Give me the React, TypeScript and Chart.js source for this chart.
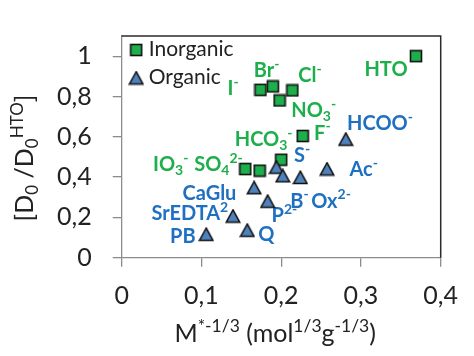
import React, { useEffect, useRef } from 'react';
import { Chart, registerables } from 'chart.js';
Chart.register(...registerables);

// ---- Data ----
const inorganicX = [0.369, 0.174, 0.1895, 0.214, 0.198, 0.227, 0.2, 0.155, 0.173];
const inorganicY = [1.0, 0.833, 0.85, 0.83, 0.78, 0.604, 0.486, 0.44, 0.432];
const organicX = [0.281, 0.194, 0.202, 0.224, 0.2575, 0.166, 0.183, 0.1395, 0.106, 0.1575];
const organicY = [0.588, 0.449, 0.406, 0.398, 0.44, 0.347, 0.28, 0.206, 0.116, 0.136];

const xTicks = [0, 0.1, 0.2, 0.3, 0.4];
const yTicks = [0, 0.2, 0.4, 0.6, 0.8, 1.0];

// annotation labels (markup: ^{sup}, _{sub}) and anchors in data units
const inorganicLabels = ['HTO', 'Br^{-}', 'Cl^{-}', 'I^{-}', 'NO_{3}^{-}', 'F^{-}', 'HCO_{3}^{-}', 'IO_{3}^{-}', 'SO_{4}^{2-}'];
const inorganicLabelX = [0.3314, 0.1816, 0.236, 0.1398, 0.2408, 0.2516, 0.178, 0.0614, 0.1214];
const inorganicLabelY = [0.937, 0.931, 0.907, 0.842, 0.732, 0.622, 0.59, 0.466, 0.466];
const organicLabels = ['HCOO^{-}', 'S^{-}', 'Ac^{-}', 'CaGlu', 'B^{-}', 'Ox^{2-}', 'P^{2-}', 'SrEDTA^{2}', 'PB', 'Q'];
const organicLabelX = [0.3239, 0.2262, 0.3035, 0.11, 0.2229, 0.2625, 0.2041, 0.0854, 0.0766, 0.1813];
const organicLabelY = [0.667, 0.509, 0.439, 0.321, 0.284, 0.284, 0.211, 0.221, 0.111, 0.117];

const seriesNames = ['Inorganic', 'Organic'];
const xTitle = 'M^{*-1/3} (mol^{1/3}g^{-1/3})';
const yTitle = '[D_{0} /D_{0}^{HTO}]';

// ---- Styles ----
const GREEN = '#1DAF4B';
const BLUE_TEXT = '#1F70C1';
const BLUE_FILL = '#4F81BD';
const FAMILY = 'Lato, "Open Sans", sans-serif';
const TEXT = '#222222';
const AXIS = '#8C8C8C';

type Seg = { t: string; k: 0 | 1 | -1 };
function parse(s: string): Seg[] {
  const out: Seg[] = [];
  const re = /([\^_])\{([^}]*)\}|([^\^_]+)/g;
  let m: RegExpExecArray | null;
  while ((m = re.exec(s))) {
    if (m[3]) out.push({ t: m[3], k: 0 });
    else out.push({ t: m[2], k: m[1] === '^' ? 1 : -1 });
  }
  return out;
}

function drawRich(
  ctx: CanvasRenderingContext2D,
  text: string,
  x: number,
  yMid: number,
  size: number,
  weight: string,
  color: string,
  supScale = 0.65,
  align: 'center' | 'left' = 'center'
) {
  const segs = parse(text);
  const font = (s: number) => `${weight} ${s}px ${FAMILY}`;
  let w = 0;
  const widths = segs.map((sg) => {
    ctx.font = font(sg.k ? size * supScale : size);
    const ww = ctx.measureText(sg.t).width;
    w += ww;
    return ww;
  });
  let cx = align === 'center' ? x - w / 2 : x;
  const base = yMid + size * 0.36;
  ctx.fillStyle = color;
  ctx.textAlign = 'left';
  ctx.textBaseline = 'alphabetic';
  segs.forEach((sg, i) => {
    ctx.font = font(sg.k ? size * supScale : size);
    const dy = sg.k === 1 ? -size * 0.42 : sg.k === -1 ? size * 0.2 : 0;
    ctx.fillText(sg.t, cx, base + dy);
    cx += widths[i];
  });
}

function makeSquare(): HTMLCanvasElement {
  const c = document.createElement('canvas');
  c.width = 14;
  c.height = 14;
  const g = c.getContext('2d')!;
  g.fillStyle = GREEN;
  g.strokeStyle = '#111';
  g.lineWidth = 1.6;
  g.fillRect(1.5, 1.5, 11, 11);
  g.strokeRect(1.5, 1.5, 11, 11);
  return c;
}

function makeTriangle(): HTMLCanvasElement {
  const c = document.createElement('canvas');
  c.width = 16;
  c.height = 15;
  const g = c.getContext('2d')!;
  g.fillStyle = BLUE_FILL;
  g.strokeStyle = '#111';
  g.lineWidth = 1.5;
  g.lineJoin = 'miter';
  g.beginPath();
  g.moveTo(8, 1.2);
  g.lineTo(14.8, 13.6);
  g.lineTo(1.2, 13.6);
  g.closePath();
  g.fill();
  g.stroke();
  return c;
}

const fmt = (v: number) => String(Math.round(v * 10) / 10).replace('.', ',');

export default function App() {
  const ref = useRef<HTMLCanvasElement>(null);

  useEffect(() => {
    const canvas = ref.current!;
    const sq = makeSquare();
    const tri = makeTriangle();

    const decor = {
      id: 'decor',
      beforeDatasetsDraw(chart: any) {
        const ctx = chart.ctx as CanvasRenderingContext2D;
        const xs = chart.scales.x;
        const ys = chart.scales.y;
        ctx.save();
        inorganicLabels.forEach((t, i) => {
          drawRich(ctx, t, xs.getPixelForValue(inorganicLabelX[i]), ys.getPixelForValue(inorganicLabelY[i]), 20, 'bold', GREEN, 0.7);
        });
        organicLabels.forEach((t, i) => {
          drawRich(ctx, t, xs.getPixelForValue(organicLabelX[i]), ys.getPixelForValue(organicLabelY[i]), 20, 'bold', BLUE_TEXT, 0.7);
        });
        ctx.restore();
      },
      afterDraw(chart: any) {
        const ctx = chart.ctx as CanvasRenderingContext2D;
        const a = chart.chartArea;
        ctx.save();
        // top & right frame
        ctx.strokeStyle = '#2a2a2a';
        ctx.lineWidth = 1.5;
        ctx.beginPath();
        ctx.moveTo(a.left, a.top);
        ctx.lineTo(a.right, a.top);
        ctx.lineTo(a.right, a.bottom);
        ctx.stroke();
        // legend
        ctx.drawImage(sq, a.left + 14.5 - 7, a.top + 14 - 7);
        ctx.drawImage(tri, a.left + 14.5 - 8, a.top + 42 - 7.5);
        ctx.font = `21px ${FAMILY}`;
        ctx.fillStyle = TEXT;
        ctx.textAlign = 'left';
        ctx.textBaseline = 'middle';
        ctx.fillText(seriesNames[0], a.left + 27, a.top + 13.5);
        ctx.fillText(seriesNames[1], a.left + 27, a.top + 41.5);
        // axis titles
        drawRich(ctx, xTitle, (a.left + a.right) / 2 - 6, 333, 25, 'normal', TEXT, 0.7);
        ctx.translate(24, 158);
        ctx.rotate(-Math.PI / 2);
        drawRich(ctx, yTitle, 0, 0, 25, 'normal', TEXT, 0.68);
        ctx.restore();
      },
    };

    const chart = new Chart(canvas, {
      type: 'scatter',
      data: {
        datasets: [
          {
            label: seriesNames[1],
            data: organicX.map((x, i) => ({ x, y: organicY[i] })),
            pointStyle: tri as any,
            pointRadius: 8,
          },
          {
            label: seriesNames[0],
            data: inorganicX.map((x, i) => ({ x, y: inorganicY[i] })),
            pointStyle: sq as any,
            pointRadius: 7,
          },
        ],
      },
      options: {
        responsive: false,
        animation: false,
        events: [],
        layout: { padding: { top: 21, right: 33.3, left: 0, bottom: 0 } },
        plugins: { legend: { display: false }, tooltip: { enabled: false } },
        scales: {
          x: {
            type: 'linear',
            min: 0,
            max: 0.4,
            afterBuildTicks: (s: any) => {
              s.ticks = xTicks.map((v) => ({ value: v }));
            },
            afterFit: (s: any) => {
              s.height = 98.3;
            },
            grid: { drawOnChartArea: false, drawTicks: true, tickLength: 9, color: AXIS, lineWidth: 1.3 },
            border: { display: true, color: AXIS, width: 1.3 },
            ticks: {
              padding: 14,
              color: TEXT,
              font: { family: FAMILY, size: 25 },
              maxRotation: 0,
              callback: (v: any) => fmt(Number(v)),
            },
          },
          y: {
            type: 'linear',
            min: 0,
            max: 1.1,
            afterBuildTicks: (s: any) => {
              s.ticks = yTicks.map((v) => ({ value: v }));
            },
            afterFit: (s: any) => {
              s.width = 121.7;
            },
            grid: { drawOnChartArea: false, drawTicks: true, tickLength: 9, color: AXIS, lineWidth: 1.3 },
            border: { display: true, color: AXIS, width: 1.3 },
            ticks: {
              padding: 21,
              color: TEXT,
              font: { family: FAMILY, size: 25 },
              callback: (v: any) => fmt(Number(v)),
            },
          },
        },
      },
      plugins: [decor],
    });
    return () => chart.destroy();
  }, []);

  return (
    <div style={{ position: 'fixed', left: 0, top: 0, width: 474, height: 356, background: '#fff' }}>
      <canvas ref={ref} width={474} height={356} style={{ display: 'block', width: 474, height: 356 }} />
    </div>
  );
}
